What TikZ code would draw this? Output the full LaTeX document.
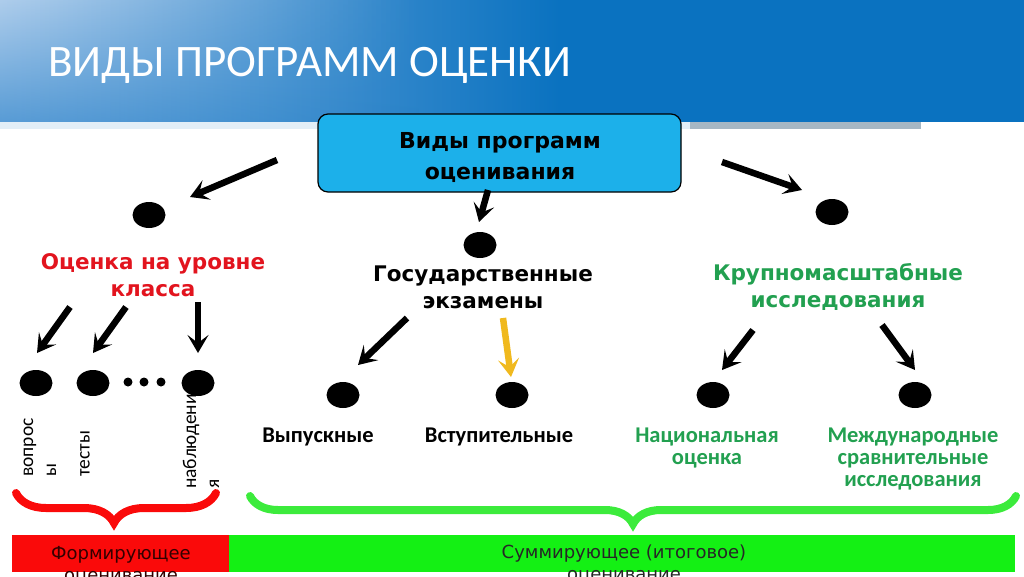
\documentclass[tikz,border=0pt]{standalone}
\usepackage{fontspec}
\setmainfont{Carlito}
\newfontfamily\comic{DejaVu Sans}
\usetikzlibrary{shapes.geometric,arrows.meta,decorations.pathreplacing,fadings}
\definecolor{bandL}{RGB}{130,178,225}
\definecolor{bandR}{RGB}{10,114,192}
\definecolor{boxcyan}{RGB}{28,176,234}
\definecolor{redt}{RGB}{226,20,30}
\definecolor{greent}{RGB}{34,160,80}
\definecolor{barred}{RGB}{250,10,10}
\definecolor{bargreen}{RGB}{20,240,20}
\definecolor{yel}{RGB}{240,185,30}
\definecolor{brgreen}{RGB}{60,235,60}
\tikzset{
  dot/.style={ellipse,fill=black,minimum width=33pt,minimum height=26pt,inner sep=0pt},
  smalldot/.style={circle,fill=black,minimum size=9pt,inner sep=0pt},
  arr/.style={line width=6.5pt,-{Stealth[length=18pt,width=21pt,inset=8pt]}},
  comicb/.style={font=\comic\bfseries\fontsize{21.5}{27}\selectfont,align=center,inner sep=0pt},
  calb/.style={font=\bfseries\fontsize{22.5}{22}\selectfont,align=center,inner sep=0pt},
  rot/.style={rotate=90,anchor=west,align=left,font=\fontsize{19.5}{23}\selectfont,inner sep=0pt},
  bartext/.style={font=\comic\fontsize{18}{22}\selectfont,align=center,inner sep=0pt,anchor=north},
}
\begin{document}
\begin{tikzpicture}[x=1pt,y=-1pt]
\useasboundingbox (0,0) rectangle (1024,576);
\clip (0,0) rectangle (1024,576);
% header
\fill[bandR] (0,0) rectangle (1024,122);
\shade[left color=bandL,right color=bandR] (0,0) rectangle (560,122);
\shade[top color=white,bottom color=bandR,opacity=0.35,path fading=east] (0,0) rectangle (420,122);
\fill[bandR!12!white] (0,122) rectangle (690,129);
\fill[bandR!30!gray!55] (690,122) rectangle (921,129);
\node[anchor=west,text=white,font=\fontsize{45}{50}\selectfont,inner sep=0pt] (title) at (48,65) {ВИДЫ ПРОГРАММ ОЦЕНКИ};
% central box
\node[draw=black,line width=1.2pt,fill=boxcyan,rounded corners=10pt,minimum width=363pt,minimum height=78pt,inner sep=0pt] (box) at (499.5,153) {};
\node[comicb,font=\comic\bfseries\fontsize{22}{31}\selectfont] (boxt) at (500,157) {Виды программ\\оценивания};
% top level dots
\node[dot] (dL) at (149,215) {};
\node[dot] (dM) at (480,245) {};
\node[dot] (dR) at (832,212) {};
\coordinate (a1s) at (277,160); \coordinate (a1e) at (190,197);
\coordinate (a2s) at (488,190); \coordinate (a2e) at (479,222);
\coordinate (a3s) at (722,162); \coordinate (a3e) at (802,190);
\draw[arr] (a1s) -- (a1e);
\draw[arr] (a2s) -- (a2e);
\draw[arr] (a3s) -- (a3e);
% headings
\node[comicb,text=redt] (hL) at (153,275) {Оценка на уровне\\класса};
\node[comicb] (hM) at (483,287) {Государственные\\экзамены};
\node[comicb,text=greent] (hR) at (838,287) {Крупномасштабные\\исследования};
% left branch
\node[dot] (l1) at (36,383) {};
\node[dot] (l2) at (93,383) {};
\node[dot] (l3) at (198,383) {};
\node[smalldot] (s1) at (128,382) {};
\node[smalldot] (s2) at (144,382) {};
\node[smalldot] (s3) at (161,382) {};
\coordinate (b1s) at (70,307); \coordinate (b1e) at (37,353);
\coordinate (b2s) at (126,307); \coordinate (b2e) at (93,353);
\coordinate (b3s) at (198,302); \coordinate (b3e) at (198,353);
\draw[arr] (b1s) -- (b1e);
\draw[arr] (b2s) -- (b2e);
\draw[arr] (b3s) -- (b3e);
\node[rot] (t1) at (40,477) {вопрос\\ы};
\node[rot] (t2) at (85,477) {тесты};
\node[rot] (t3) at (201,489) {наблюдени\\я};
% middle branch
\node[dot] (m1) at (343,395) {};
\node[dot] (m2) at (512,395) {};
\coordinate (c1s) at (407,318); \coordinate (c1e) at (358,365);
\coordinate (c2s) at (503,318); \coordinate (c2e) at (511,377);
\draw[arr] (c1s) -- (c1e);
\draw[arr,draw=yel] (c2s) -- (c2e);
\node[calb] (mt1) at (318,437) {Выпускные};
\node[calb] (mt2) at (499,437) {Вступительные};
% right branch
\node[dot] (r1) at (713,395) {};
\node[dot] (r2) at (915,395) {};
\coordinate (e1s) at (753,330); \coordinate (e1e) at (722,370);
\coordinate (e2s) at (882,325); \coordinate (e2e) at (915,370);
\draw[arr] (e1s) -- (e1e);
\draw[arr] (e2s) -- (e2e);
\node[calb,text=greent] (rt1) at (707,448) {Национальная\\оценка};
\node[calb,text=greent] (rt2) at (913,459) {Международные\\сравнительные\\исследования};
% braces
\coordinate (brL1) at (16,493); \coordinate (brL2) at (216,493);
\coordinate (brG1) at (250,496); \coordinate (brG2) at (1016,496);
\draw[barred,line width=8pt,line cap=round,decorate,decoration={brace,mirror,amplitude=30pt,aspect=0.49}] (brL1) -- (brL2);
\draw[brgreen,line width=8pt,line cap=round,decorate,decoration={brace,mirror,amplitude=28pt}] (brG1) -- (brG2);
% bottom bars
\node[fill=barred,minimum width=218pt,minimum height=37pt,inner sep=0pt,anchor=north west] (barR) at (12,535) {};
\node[fill=bargreen,minimum width=786pt,minimum height=37pt,inner sep=0pt,anchor=north west] (barG) at (229,535) {};
\node[bartext,text=black!80!red] (bt1) at (121,546) {Формирующее\\оценивание};
\node[bartext,text=black!85] (bt2) at (624,545) {Суммирующее (итоговое)\\оценивание};
\end{tikzpicture}
\end{document}
